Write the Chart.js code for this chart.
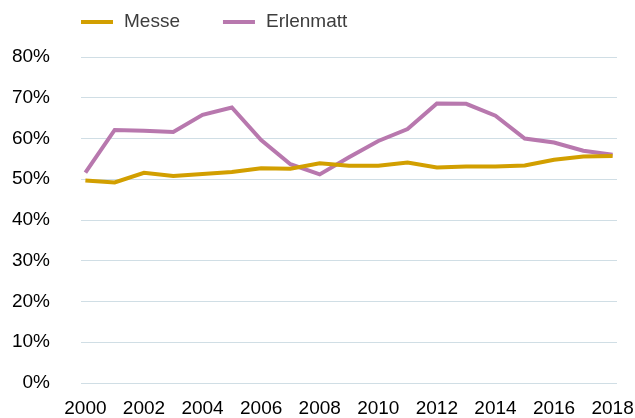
<!DOCTYPE html>
<html>
<head>
<meta charset="utf-8">
<script src="https://cdn.jsdelivr.net/npm/chart.js@4/dist/chart.umd.min.js"></script>
<style>
  html, body { margin: 0; padding: 0; background: #ffffff; }
  #wrap { width: 635px; height: 418px; }
</style>
</head>
<body>
<div id="wrap"><canvas id="c" width="635" height="418"></canvas></div>
<script>
const years = [2000, 2001, 2002, 2003, 2004, 2005, 2006, 2007, 2008, 2009,
               2010, 2011, 2012, 2013, 2014, 2015, 2016, 2017, 2018];
const messe = [49.7, 49.2, 51.6, 50.8, 51.3, 51.8, 52.7, 52.6, 53.9, 53.3,
               53.3, 54.1, 52.9, 53.1, 53.1, 53.4, 54.8, 55.6, 55.7];
const erlenmatt = [51.6, 62.1, 61.9, 61.6, 65.8, 67.6, 59.6, 53.7, 51.2, 55.4,
                   59.4, 62.3, 68.6, 68.5, 65.6, 60.0, 59.0, 57.0, 56.0];
const xTickLabels = [2000, 2002, 2004, 2006, 2008, 2010, 2012, 2014, 2016, 2018];
const yTickValues = [0, 10, 20, 30, 40, 50, 60, 70, 80];
const seriesNames = ['Messe', 'Erlenmatt'];
const seriesColors = ['#D29F00', '#B878AE'];

const FONT = '"Liberation Sans", Arial, sans-serif';

const legendPlugin = {
  id: 'customLegend',
  afterDraw(chart) {
    const ctx = chart.ctx;
    ctx.save();
    ctx.font = '19px ' + FONT;
    ctx.textBaseline = 'middle';
    ctx.textAlign = 'left';
    let x = 81;
    const y = 22;
    chart.data.datasets.forEach(ds => {
      ctx.fillStyle = ds.borderColor;
      ctx.fillRect(x, y - 2, 32, 4);
      ctx.fillStyle = '#3d3d3d';
      ctx.fillText(ds.label, x + 43, y);
      x += 43 + ctx.measureText(ds.label).width + 43;
    });
    ctx.restore();
  }
};

const toPoints = arr => years.map((yr, i) => ({ x: yr, y: arr[i] }));

new Chart(document.getElementById('c'), {
  type: 'line',
  data: {
    datasets: [
      { label: seriesNames[0], data: toPoints(messe), borderColor: seriesColors[0],
        backgroundColor: seriesColors[0], borderWidth: 4, pointRadius: 0, tension: 0, fill: false },
      { label: seriesNames[1], data: toPoints(erlenmatt), borderColor: seriesColors[1],
        backgroundColor: seriesColors[1], borderWidth: 4, pointRadius: 0, tension: 0, fill: false }
    ]
  },
  options: {
    responsive: false,
    animation: false,
    layout: { padding: { top: 57, right: 18, left: 0, bottom: 0 } },
    plugins: {
      legend: { display: false },
      tooltip: { enabled: false }
    },
    scales: {
      x: {
        type: 'linear',
        min: 1999.85,
        max: 2018.15,
        afterBuildTicks(scale) {
          scale.ticks = xTickLabels.map(v => ({ value: v }));
        },
        afterFit(scale) {
          scale.height = 35;
          scale.paddingLeft = 0;
          scale.paddingRight = 0;
        },
        ticks: {
          callback: v => String(v),
          color: '#000000',
          font: { family: FONT, size: 19, lineHeight: 1 },
          padding: 16,
          maxRotation: 0,
          autoSkip: false
        },
        grid: { display: false, drawTicks: false },
        border: { display: false }
      },
      y: {
        min: 0,
        max: 80,
        afterBuildTicks(scale) {
          scale.ticks = yTickValues.map(v => ({ value: v }));
        },
        afterFit(scale) {
          scale.width = 81;
          scale.paddingTop = 0;
          scale.paddingBottom = 0;
        },
        ticks: {
          callback: v => v + '%',
          color: '#000000',
          font: { family: FONT, size: 19, lineHeight: 1 },
          padding: 31
        },
        grid: { color: '#D0DEE5', lineWidth: 1, drawTicks: false },
        border: { display: false }
      }
    }
  },
  plugins: [legendPlugin]
});
</script>
</body>
</html>
